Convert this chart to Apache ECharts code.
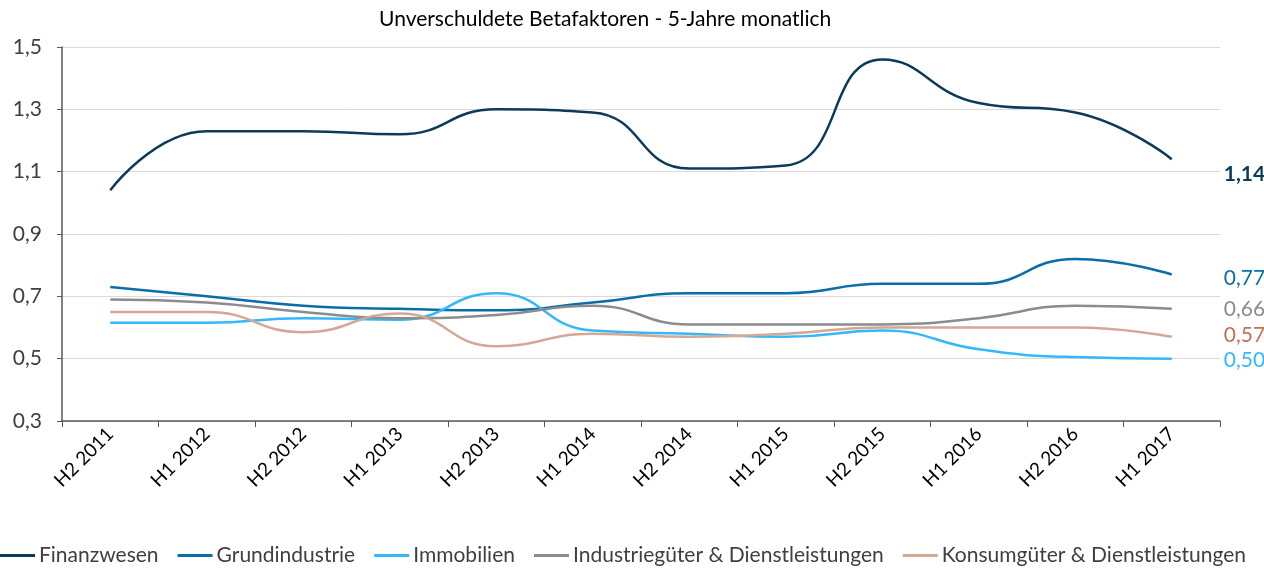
<!DOCTYPE html>
<html>
<head>
<meta charset="utf-8">
<script src="https://cdn.jsdelivr.net/npm/echarts@6/dist/echarts.min.js"></script>
<style>
    html, body {margin: 0; padding: 0; background: #fff;}
    #chart {width: 1264px; height: 569px;}
</style>
</head>
<body>
<div id="chart"></div>
<script>
    // Kategorien (Halbjahre)
    let categories = ['H2 2011', 'H1 2012', 'H2 2012', 'H1 2013', 'H2 2013', 'H1 2014',
        'H2 2014', 'H1 2015', 'H2 2015', 'H1 2016', 'H2 2016', 'H1 2017'];

    // Werte je Branche
    let finanzwesen = [1.04, 1.23, 1.23, 1.22, 1.30, 1.29, 1.11, 1.12, 1.46, 1.32, 1.29, 1.14];
    let grundindustrie = [0.73, 0.70, 0.67, 0.66, 0.655, 0.68, 0.71, 0.71, 0.74, 0.74, 0.82, 0.77];
    let immobilien = [0.615, 0.615, 0.63, 0.625, 0.71, 0.59, 0.58, 0.57, 0.59, 0.53, 0.505, 0.50];
    let industrie = [0.69, 0.68, 0.65, 0.63, 0.64, 0.67, 0.61, 0.61, 0.61, 0.63, 0.67, 0.66];
    let konsum = [0.65, 0.65, 0.585, 0.645, 0.54, 0.58, 0.57, 0.58, 0.60, 0.60, 0.60, 0.57];

    // y-Achse Beschriftung
    let yTicks = [0.3, 0.5, 0.7, 0.9, 1.1, 1.3, 1.5];

    let font = 'Lato';
    let komma = function (v, d) {
        return Number(v).toFixed(d).replace('.', ',');
    };

    // eine Linie mit Endbeschriftung
    function makeSeries(name, data, color, labelColor, dy, bold) {
        return {
            name: name,
            type: 'line',
            data: data,
            smooth: 0.5,
            symbol: 'none',
            lineStyle: {color: color, width: 2.5},
            itemStyle: {color: color},
            endLabel: {
                show: true,
                offset: [44, dy],
                color: labelColor,
                fontFamily: font,
                fontSize: 21,
                fontWeight: bold ? 'bold' : 'normal',
                formatter: function (p) {
                    return komma(p.value, 2);
                }
            }
        };
    }

    let chart = echarts.init(document.getElementById('chart'));
    chart.setOption({
        animation: false,
        title: {
            text: 'Unverschuldete Betafaktoren - 5-Jahre monatlich',
            left: 374,
            top: 4,
            textStyle: {fontFamily: font, fontSize: 21, fontWeight: 'normal', color: '#000'}
        },
        legend: {
            left: 0,
            top: 545,
            padding: 0,
            width: 1264,
            itemWidth: 35,
            itemHeight: 3,
            itemGap: 19,
            icon: 'rect',
            textStyle: {fontFamily: font, fontSize: 21, color: '#404040', padding: [0, 0, 0, -1]}
        },
        grid: {left: 62, right: 44, top: 47, bottom: 148},
        xAxis: {
            type: 'category',
            data: categories,
            boundaryGap: true,
            axisLine: {lineStyle: {color: '#595959', width: 1.5}},
            axisTick: {show: true, length: 6, lineStyle: {color: '#595959'}},
            axisLabel: {
                rotate: 45,
                interval: 0,
                fontFamily: font,
                fontSize: 19,
                color: '#000',
                margin: 10
            }
        },
        yAxis: {
            type: 'value',
            min: 0.3,
            max: 1.5,
            axisLine: {show: true, lineStyle: {color: '#595959', width: 1.5}},
            axisTick: {show: true, length: 5, customValues: yTicks, lineStyle: {color: '#595959'}},
            splitLine: {lineStyle: {color: '#d9d9d9', width: 1}},
            axisLabel: {
                customValues: yTicks,
                fontFamily: font,
                fontSize: 21,
                color: '#404040',
                margin: 20,
                formatter: function (v) {
                    return komma(v, 1);
                }
            }
        },
        series: [
            makeSeries('Finanzwesen', finanzwesen, '#0B3B58', '#0B3B58', 15, true),
            makeSeries('Grundindustrie', grundindustrie, '#0A6EA8', '#0A6EA8', 4, false),
            makeSeries('Immobilien', immobilien, '#35B8FA', '#35B8FA', 2, false),
            makeSeries('Industriegüter & Dienstleistungen', industrie, '#8C8C8C', '#8C8C8C', 0, false),
            makeSeries('Konsumgüter & Dienstleistungen', konsum, '#D4A796', '#C07254', -2, false)
        ]
    });
</script>
</body>
</html>
